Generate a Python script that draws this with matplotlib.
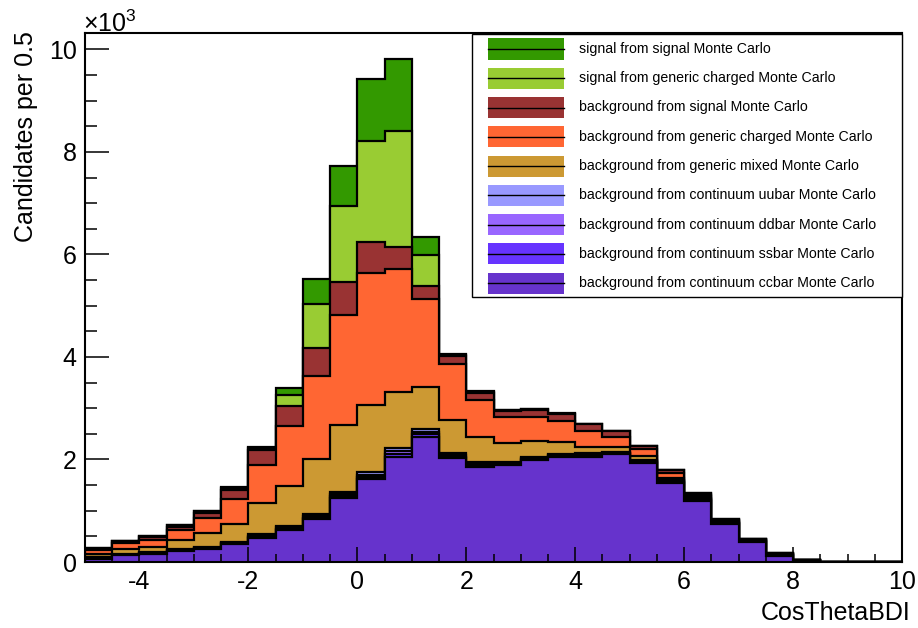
import numpy as np
import matplotlib
matplotlib.use("Agg")
import matplotlib.pyplot as plt
from matplotlib.patches import Rectangle
from matplotlib.ticker import MultipleLocator, FuncFormatter

plt.rcParams['font.family'] = ['Liberation Sans', 'DejaVu Sans']
plt.rcParams['mathtext.fontset'] = 'custom'
plt.rcParams['mathtext.rm'] = 'Liberation Sans'

# 30 bins of width 0.5 from -5 to 10
edges = np.arange(-5, 10.01, 0.5)

# candidates per bin, one list per sample (bottom of the stack first)
ccbar = [65, 128, 160, 221, 257, 352, 475, 625, 835, 1243, 1610, 2057, 2448, 2020, 1862,
         1894, 1992, 2044, 2057, 2103, 1927, 1549, 1191, 742, 391, 124, 30, 0, 0, 0]
ssbar = [12, 9, 11, 9, 11, 14, 20, 26, 29, 38, 45, 53, 44, 35, 27,
         18, 18, 21, 18, 14, 18, 14, 15, 12, 9, 8, 0, 0, 0, 0]
ddbar = [12, 9, 11, 9, 11, 13, 19, 25, 28, 37, 45, 52, 43, 34, 27,
         18, 18, 21, 18, 14, 18, 13, 15, 12, 9, 7, 0, 0, 0, 0]
uubar = [16, 12, 14, 12, 16, 18, 26, 34, 38, 50, 60, 70, 58, 46, 36,
         24, 24, 28, 24, 20, 24, 18, 20, 16, 12, 10, 0, 0, 0, 0]
mixed = [51, 100, 104, 169, 275, 345, 606, 774, 1082, 1302, 1310, 1075, 827, 638, 496,
         364, 318, 223, 135, 101, 83, 53, 39, 23, 17, 11, 0, 0, 0, 0]
charged_bkg = [74, 107, 130, 205, 290, 488, 748, 1176, 1608, 2154, 2567, 2415, 1710, 1087, 703,
               501, 449, 404, 306, 196, 130, 98, 30, 10, 5, 4, 0, 0, 0, 0]
signal_bkg = [30, 35, 60, 65, 105, 176, 293, 387, 553, 638, 606, 417, 247, 160, 149,
              131, 156, 149, 127, 107, 55, 45, 25, 13, 4, 3, 0, 0, 0, 0]
sig_generic = [8, 8, 12, 25, 25, 34, 33, 215, 859, 1478, 1966, 2266, 619, 20, 15,
               10, 7, 7, 5, 5, 5, 4, 3, 3, 1, 1, 0, 0, 0, 0]
sig_signal = [5, 5, 8, 15, 10, 25, 33, 130, 495, 781, 1205, 1412, 345, 22, 12,
              9, 6, 6, 5, 5, 6, 3, 3, 2, 1, 1, 0, 0, 0, 0]

stack = [ccbar, ssbar, ddbar, uubar, mixed, charged_bkg, signal_bkg, sig_generic, sig_signal]
colors = ['#6633CC', '#6633FF', '#9966FF', '#9999FF', '#CC9933',
          '#FF6633', '#993333', '#99CC33', '#339900']
labels = ['background from continuum ccbar Monte Carlo',
          'background from continuum ssbar Monte Carlo',
          'background from continuum ddbar Monte Carlo',
          'background from continuum uubar Monte Carlo',
          'background from generic mixed Monte Carlo',
          'background from generic charged Monte Carlo',
          'background from signal Monte Carlo',
          'signal from generic charged Monte Carlo',
          'signal from signal Monte Carlo']

W, H = 918, 628
fig = plt.figure(figsize=(W / 100, H / 100), dpi=100)
ax = fig.add_axes([85 / W, 1 - 562 / H, 817 / W, 529 / H])

# draw cumulative sums, largest first, each filled from zero (ROOT THStack style)
cum = np.cumsum(np.array(stack, dtype=float), axis=0)
for i in range(len(stack) - 1, -1, -1):
    ax.stairs(cum[i], edges, baseline=0, fill=True, facecolor=colors[i],
              edgecolor='black', linewidth=1.6)

ax.set_xlim(-5, 10)
ax.set_ylim(0, 10320)

ax.xaxis.set_major_locator(MultipleLocator(2))
ax.xaxis.set_minor_locator(MultipleLocator(0.5))
ax.yaxis.set_major_locator(MultipleLocator(2000))
ax.yaxis.set_minor_locator(MultipleLocator(500))
ax.yaxis.set_major_formatter(FuncFormatter(lambda v, p: '%d' % round(v / 1000)))
ax.xaxis.set_major_formatter(FuncFormatter(lambda v, p: '%d' % round(v)))

ax.tick_params(axis='both', which='both', direction='in', top=False, right=False,
               labelsize=18, width=1.1)
ax.tick_params(axis='x', which='major', length=11, pad=6)
ax.tick_params(axis='x', which='minor', length=5.5)
ax.tick_params(axis='y', which='major', length=17, pad=6)
ax.tick_params(axis='y', which='minor', length=8.5)
for s in ax.spines.values():
    s.set_linewidth(1.5)
    s.set_zorder(5)

fig.text(911 / W, 1 - 620 / H, 'CosThetaBDI', ha='right', va='baseline', fontsize=18)
fig.text(26 / W, 1 - 31 / H, 'Candidates per 0.5', rotation=90, ha='center', va='top',
         fontsize=18)
fig.text(83 / W, 1 - 32 / H, r'$\mathregular{\times10^{3}}$', ha='left', va='baseline',
         fontsize=18)

# legend box, top entry = top of the stack
lx0, ly0, lx1, ly1 = 472, 34, 902, 297
fig.add_artist(Rectangle((lx0 / W, 1 - ly1 / H), (lx1 - lx0) / W, (ly1 - ly0) / H,
                         transform=fig.transFigure, facecolor='white',
                         edgecolor='black', linewidth=1.0, zorder=10))
for k in range(len(stack)):
    i = len(stack) - 1 - k
    yc = 49 + 29.25 * k
    fig.add_artist(Rectangle((488 / W, 1 - (yc + 10.5) / H), 76 / W, 21 / H,
                             transform=fig.transFigure, facecolor=colors[i],
                             edgecolor='none', zorder=11))
    fig.add_artist(plt.Line2D([488 / W, 564 / W], [1 - yc / H, 1 - yc / H],
                              transform=fig.transFigure, color='black',
                              linewidth=1.0, zorder=12))
    fig.text(579 / W, 1 - yc / H, labels[i], ha='left', va='center', fontsize=10.2,
             zorder=12)

fig.savefig('out.png', dpi=100)
